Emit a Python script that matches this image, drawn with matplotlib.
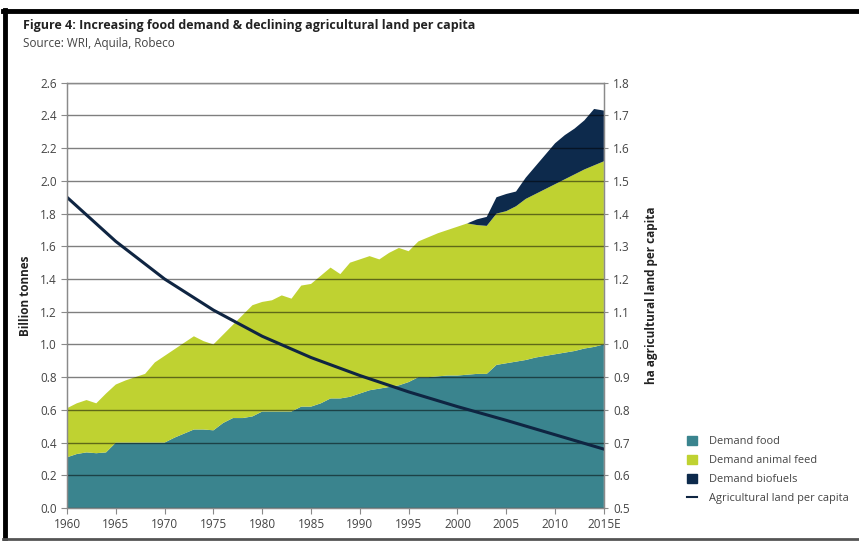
import matplotlib.pyplot as plt
from matplotlib.patches import Patch
from matplotlib.lines import Line2D

plt.rcParams['font.family'] = ['Open Sans', 'DejaVu Sans']

years = list(range(1960, 2016))
# billion tonnes, stacked layers
food = [0.31, 0.33, 0.34, 0.335, 0.34, 0.40, 0.40, 0.40, 0.40, 0.40,
        0.40, 0.43, 0.455, 0.48, 0.48, 0.475, 0.52, 0.55, 0.55, 0.56,
        0.59, 0.59, 0.59, 0.59, 0.62, 0.62, 0.64, 0.67, 0.67, 0.68,
        0.70, 0.72, 0.73, 0.74, 0.75, 0.77, 0.80, 0.80, 0.805, 0.81,
        0.81, 0.815, 0.82, 0.82, 0.875, 0.885, 0.895, 0.905, 0.92, 0.93,
        0.94, 0.95, 0.96, 0.975, 0.985, 1.00]
animal_feed = [0.30, 0.31, 0.32, 0.305, 0.36, 0.355, 0.38, 0.40, 0.42, 0.49,
               0.53, 0.54, 0.555, 0.57, 0.54, 0.525, 0.54, 0.57, 0.63, 0.68,
               0.67, 0.68, 0.71, 0.69, 0.74, 0.75, 0.78, 0.80, 0.76, 0.82,
               0.82, 0.82, 0.79, 0.82, 0.84, 0.80, 0.83, 0.855, 0.875, 0.89,
               0.91, 0.925, 0.91, 0.905, 0.925, 0.93, 0.95, 0.985, 1.00, 1.02,
               1.04, 1.06, 1.08, 1.095, 1.11, 1.12]
biofuels = [0.0] * 41 + [0.0, 0.035, 0.055, 0.10, 0.105, 0.09, 0.13, 0.17, 0.21,
                         0.25, 0.27, 0.28, 0.30, 0.345, 0.31]

# ha agricultural land per capita (right axis)
land_years = [1960, 1965, 1970, 1975, 1980, 1985, 1990, 1995, 2000, 2005, 2010, 2015]
land_per_capita = [1.45, 1.315, 1.20, 1.105, 1.025, 0.96, 0.905, 0.855, 0.81, 0.768, 0.724, 0.68]

xtick_years = [1960, 1965, 1970, 1975, 1980, 1985, 1990, 1995, 2000, 2005, 2010, 2015]
xtick_labels = ['1960', '1965', '1970', '1975', '1980', '1985', '1990', '1995',
                '2000', '2005', '2010', '2015E']

c_food = '#3a848e'
c_feed = '#bfd231'
c_bio = '#0d2a4c'
c_line = '#0f2542'
c_text = '#444444'
c_spine = '#8a8a8a'

fig = plt.figure(figsize=(8.59, 5.41), dpi=100)
ax = fig.add_axes([0.078, 0.061, 0.625, 0.786])

ax.stackplot(years, food, animal_feed, biofuels,
             colors=[c_food, c_feed, c_bio], linewidth=0)
ax.set_xlim(1960, 2015)
ax.set_ylim(0, 2.6)
ax.set_yticks([i * 0.2 for i in range(14)])
ax.set_yticklabels(['%.1f' % (i * 0.2) for i in range(14)])
ax.set_xticks(xtick_years)
ax.set_xticklabels(xtick_labels)
ax.yaxis.grid(True, color='black', alpha=0.5, linewidth=1)
ax.set_axisbelow(False)
ax.set_ylabel('Billion tonnes', fontsize=8.5, fontweight='bold', color='#222222', labelpad=6)
ax.tick_params(axis='both', labelsize=8.5, labelcolor=c_text, color=c_spine, length=4, width=0.8)

ax2 = ax.twinx()
ax2.plot(land_years, land_per_capita, color=c_line, linewidth=2.2)
ax2.set_ylim(0.5, 1.8)
ax2.set_yticks([0.5 + i * 0.1 for i in range(14)])
ax2.set_yticklabels(['%.1f' % (0.5 + i * 0.1) for i in range(14)])
ax2.set_ylabel('ha agricultural land per capita', fontsize=8.5, fontweight='bold',
               color='#222222', labelpad=11)
ax2.tick_params(axis='y', labelsize=8.5, labelcolor=c_text, color=c_spine, length=3, width=0.8)

for a in (ax, ax2):
    for s in a.spines.values():
        s.set_color(c_spine)
        s.set_linewidth(0.9)

fig.text(0.027, 0.952, 'Figure 4: Increasing food demand & declining agricultural land per capita',
         fontsize=9, fontweight='bold', color='#222222', va='center')
fig.text(0.027, 0.919, 'Source: WRI, Aquila, Robeco', fontsize=8.5, color=c_text, va='center')

handles = [Patch(color=c_food), Patch(color=c_feed), Patch(color=c_bio),
           Line2D([0], [0], color=c_line, linewidth=1.5)]
labels = ['Demand food', 'Demand animal feed', 'Demand biofuels', 'Agricultural land per capita']
fig.legend(handles, labels, loc='upper left', bbox_to_anchor=(0.800, 0.195), frameon=False,
           fontsize=7.9, labelcolor=c_text, handlelength=0.9, handleheight=0.9,
           handletextpad=1.1, labelspacing=0.7, borderaxespad=0, borderpad=0)

# black frame of the original graphic
fig.add_artist(Line2D([0.006, 0.006], [0.003, 0.981], color='black', linewidth=3.5))
fig.add_artist(Line2D([0.004, 1.0], [0.979, 0.979], color='black', linewidth=3.5))
fig.add_artist(Line2D([0.004, 1.0], [0.004, 0.004], color='#555555', linewidth=2))

fig.savefig('out.png', dpi=100)
